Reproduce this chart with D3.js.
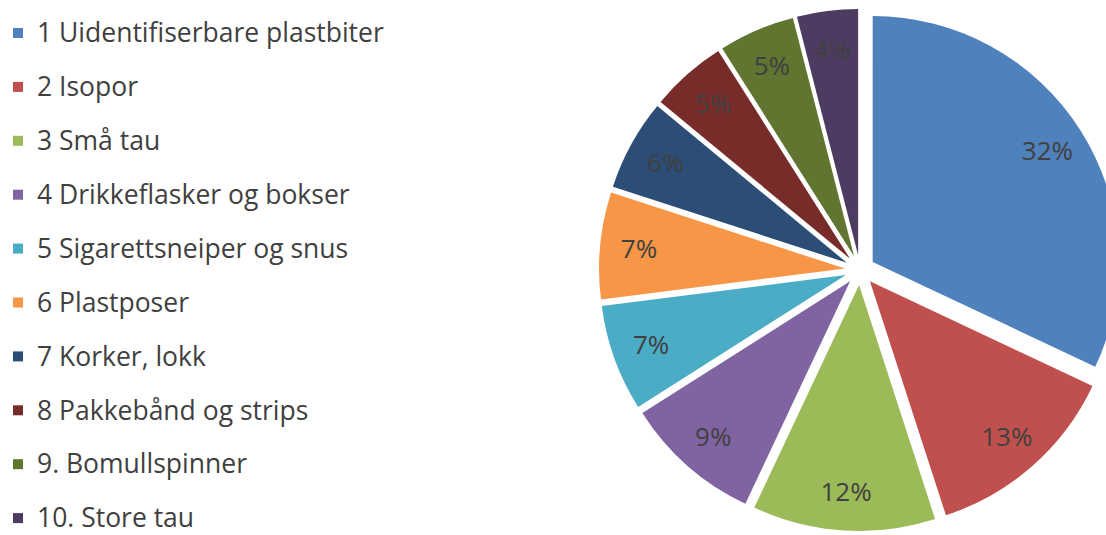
<!DOCTYPE html>
<html>
<head>
<meta charset="utf-8">
<script src="https://cdn.jsdelivr.net/npm/d3@7"></script>
<style>
  body { margin: 0; background: #fff; }
  svg { display: block; }
</style>
</head>
<body>
<div id="chart"></div>
<script>
const categories = ["1 Uidentifiserbare plastbiter", "2 Isopor", "3 Små tau", "4 Drikkeflasker og bokser",
    "5 Sigarettsneiper og snus", "6 Plastposer", "7 Korker, lokk", "8 Pakkebånd og strips",
    "9. Bomullspinner", "10. Store tau"];
const values = [32, 13, 12, 9, 7, 7, 6, 5, 5, 4];
const colors = ["#4f81bd", "#c0504d", "#9bbb59", "#8064a2", "#4bacc6", "#f79646",
    "#2c4d75", "#772c2a", "#5f7530", "#4d3b62"];

const width = 1106, height = 535;
const cx = 860, cy = 270, radius = 246, explode = 15, labelR = 207;

const svg = d3.select("#chart").append("svg")
    .attr("width", width)
    .attr("height", height);

const data = categories.map((c, i) => ({ name: c, value: values[i], color: colors[i] }));

const pie = d3.pie().sort(null).value(d => d.value);
const arc = d3.arc().innerRadius(0).outerRadius(radius);
const arcs = pie(data);

const colorScale = d3.scaleOrdinal().domain(categories).range(colors);

const g = svg.append("g").attr("transform", `translate(${cx},${cy})`);

const slice = g.selectAll(".slice")
    .data(arcs)
    .enter().append("g")
    .attr("class", "slice")
    .attr("transform", d => {
        const a = (d.startAngle + d.endAngle) / 2;
        return `translate(${explode * Math.sin(a)},${-explode * Math.cos(a)})`;
    });

slice.append("path")
    .attr("d", arc)
    .attr("fill", d => colorScale(d.data.name));

slice.append("text")
    .attr("x", d => labelR * Math.sin((d.startAngle + d.endAngle) / 2))
    .attr("y", d => -labelR * Math.cos((d.startAngle + d.endAngle) / 2))
    .attr("dy", ".35em")
    .attr("text-anchor", "middle")
    .style("font-family", "'Open Sans', sans-serif")
    .style("font-size", "26px")
    .style("fill", "#404040")
    .text(d => d.data.value + "%");

// legend
const legend = svg.append("g").attr("transform", "translate(13, 33)");
const row = 53.9;

legend.selectAll("rect")
    .data(categories)
    .enter().append("rect")
    .attr("x", 0)
    .attr("y", (d, i) => i * row - 5)
    .attr("width", 10)
    .attr("height", 10)
    .attr("fill", d => colorScale(d));

legend.selectAll("text")
    .data(categories)
    .enter().append("text")
    .attr("x", 24)
    .attr("y", (d, i) => i * row)
    .attr("dy", ".35em")
    .style("font-family", "'Open Sans', sans-serif")
    .style("font-size", "26.5px")
    .style("fill", "#404040")
    .text(d => d);
</script>
</body>
</html>
